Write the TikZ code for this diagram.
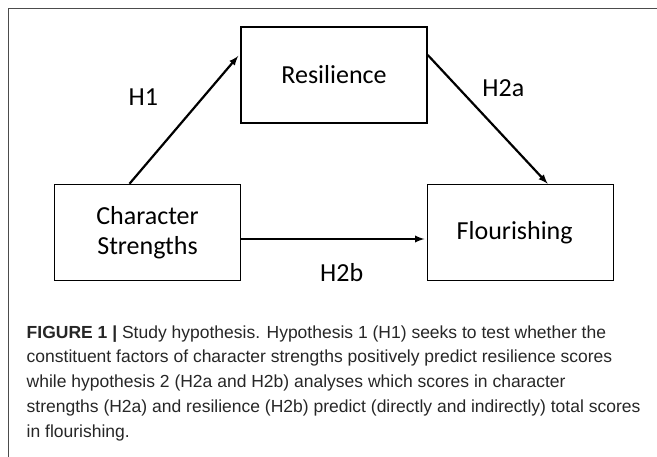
\documentclass[tikz,border=0pt]{standalone}
\usepackage{fontspec}
\newfontfamily\boxfont{Carlito}
\newfontfamily\capfont{Liberation Sans}
\usetikzlibrary{arrows}

\begin{document}
\begin{tikzpicture}
	% Styles
	[
	x=1pt, y=-1pt,
	box/.style={rectangle,draw=black,line width=1.5pt,minimum width=186pt,minimum height=96pt,inner sep=0pt,align=center,font=\boxfont\fontsize{26}{30}\selectfont},
	hyp/.style={anchor=base,inner sep=0pt,font=\boxfont\fontsize{26}{30}\selectfont},
	link/.style={-latex,line width=2.2pt},
	caption/.style={anchor=base west,align=left,inner sep=0pt,text=black!85,font=\capfont\fontsize{17.5}{25}\selectfont},
	]

	% Frame
	\useasboundingbox (0,0) rectangle (657,457);
	\draw[line width=1.5pt,draw=black!70] (8.5,457) -- (8.5,8.5) -- (657,8.5);

	% Nodes
	\node at (334,75)	(res)	[box] {Resilience};
	\node at (147.5,232.5)	(cs)	[box] {Character\\Strengths};
	\node at (520.7,232.5)	(flo)	[box] {\hspace*{-12pt}Flourishing};

	% Labels
	\node at (143.3,105.5)	(h1)	[hyp] {H1};
	\node at (503.3,97)	(h2a)	[hyp] {H2a};
	\node at (341.7,282)	(h2b)	[hyp] {H2b};

	% Connections
	\draw[link] ([xshift=-18pt]cs.north) -- ([xshift=-2pt,yshift=19pt]res.west);
	\draw[link] ([yshift=20pt]res.east) -- ([xshift=27pt]flo.north);
	\draw[link] ([yshift=-6.5pt]cs.east) -- ([xshift=-2.5pt,yshift=-6.5pt]flo.west);

	% Caption (base = last line)
	\node at (26.5,438)	(cap)	[caption] {\textbf{FIGURE 1 |} Study hypothesis. Hypothesis 1 (H1) seeks to test whether the\\
		constituent factors of character strengths positively predict resilience scores\\
		while hypothesis 2 (H2a and H2b) analyses which scores in character\\
		strengths (H2a) and resilience (H2b) predict (directly and indirectly) total scores\\
		in flourishing.};

\end{tikzpicture}
\end{document}
